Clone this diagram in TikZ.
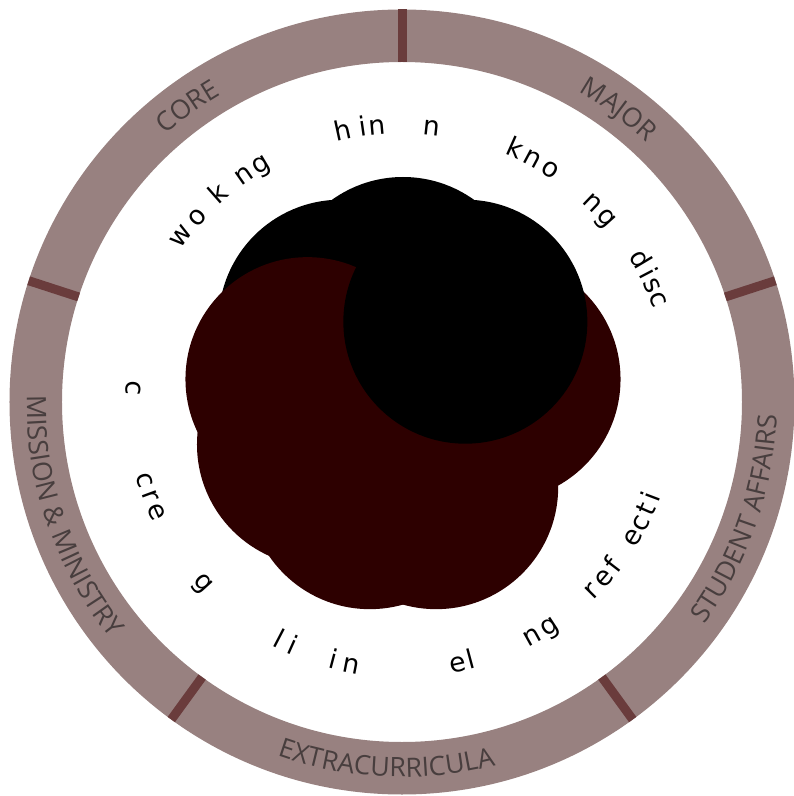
\documentclass[tikz,border=0pt]{standalone}
\usepackage{fontspec}
\setsansfont{Open Sans}
\newfontfamily\wordfont{DejaVu Sans}
\usepackage{xcolor}
\definecolor{ringmauve}{RGB}{152,129,128}
\definecolor{ringline}{RGB}{106,60,60}
\definecolor{ringtext}{RGB}{72,62,62}
\definecolor{bloodred}{RGB}{45,0,0}
\usetikzlibrary{decorations.text}
\newcommand{\ringfont}{\sffamily\fontsize{20}{21}\selectfont}
\tikzset{
  upletter/.style={anchor=base, inner sep=0pt, font=\wordfont\fontsize{20}{21}\selectfont},
  ringlabel/.style={decorate, decoration={text along path, text align=center, text color=ringtext}}
}

\begin{document}
\begin{tikzpicture}[x=0.75pt, y=0.75pt]
    \useasboundingbox (-402,-394) rectangle (391,402);
    \fill[ringmauve, even odd rule] (0,0) circle[radius=392.5] circle[radius=340];
    \foreach \a in {18,90,162,234,306}
        \draw[ringline, line width=6.75pt] (\a:340) -- (\a:392.5);
    \path[ringlabel, decoration={text={|\ringfont|CORE}}] (156:357) arc[start angle=156, end angle=96, radius=357];
    \path[ringlabel, decoration={text={|\ringfont|MAJOR}}] (83.5:357) arc[start angle=83.5, end angle=23.5, radius=357];
    \path[ringlabel, decoration={text={|\ringfont|STUDENT AFFAIRS}}] (300.8:375) arc[start angle=300.8, end angle=380.8, radius=375];
    \path[ringlabel, decoration={text={|\ringfont|EXTRACURRICULA}}] (227.5:375) arc[start angle=227.5, end angle=307.5, radius=375];
    \path[ringlabel, decoration={text={|\ringfont|MISSION {\&} MINISTRY}}] (154:375) arc[start angle=154, end angle=244, radius=375];
    \begin{scope}[shift={(1,6)}]
        \foreach \a in {130,90}
            \fill (\a:97) circle[radius=122];
        \foreach \a in {170,-150,-110,-70,10}
            \fill[bloodred] (\a:97) circle[radius=122];
        \fill (50:97) circle[radius=122];
    \end{scope}
    \foreach \a/\l [count=\i] in {143.1/w, 138/o, 131.4/k, 125/n, 120.8/g, 102.3/h, 98.2/i, 95.1/n, 83.8/n, 66/k, 61.9/n, 57.5/o, 46.3/n, 42/g, 30.9/d, 27.6/i, 24.9/s, 21.8/c}
        \node[upletter, rotate=\a-90] (up\i) at (\a:268.5) {\l};
    \foreach \a/\l [count=\i] in {177/c, 197/c, 200.4/r, 204.1/e, 222.3/g, 242.5/l, 245.7/i, 255.2/i, 259/n, 282.1/e, 285/l, 299/n, 303.3/g, 315.2/r, 318.9/e, 322.4/f, 329.6/e, 333.1/c, 336.3/t, 339.3/i}
        \node[upletter, rotate=\a+90] (down\i) at (\a:276) {\l};
\end{tikzpicture}
\end{document}
